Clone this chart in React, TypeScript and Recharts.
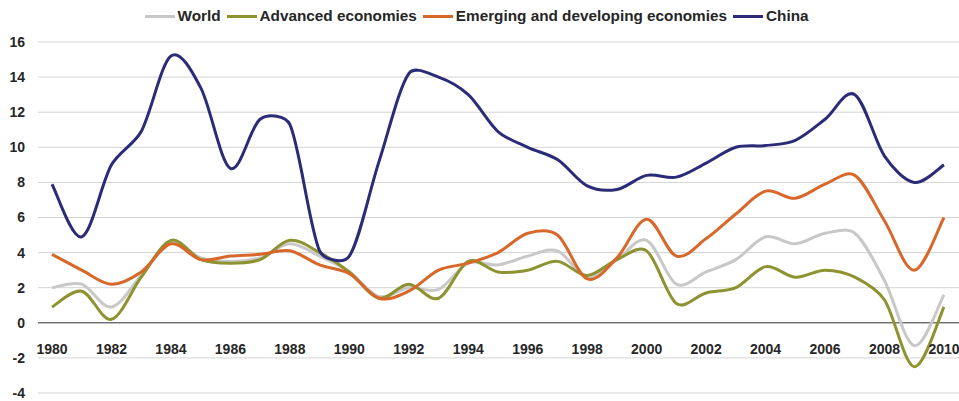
import { LineChart, Line, XAxis, YAxis, CartesianGrid, Legend, ReferenceLine } from 'recharts';

const years = [
  1980, 1981, 1982, 1983, 1984, 1985, 1986, 1987, 1988, 1989, 1990, 1991, 1992, 1993, 1994, 1995,
  1996, 1997, 1998, 1999, 2000, 2001, 2002, 2003, 2004, 2005, 2006, 2007, 2008, 2009, 2010,
];
const world = [
  2.0, 2.2, 0.9, 2.7, 4.6, 3.7, 3.5, 3.7, 4.5, 3.8, 2.9, 1.5, 2.0, 1.9, 3.4, 3.3,
  3.8, 4.1, 2.6, 3.6, 4.7, 2.2, 2.9, 3.6, 4.9, 4.5, 5.1, 5.1, 2.4, -1.3, 1.6,
];
const advanced = [
  0.9, 1.8, 0.2, 2.6, 4.7, 3.6, 3.4, 3.6, 4.7, 4.0, 2.9, 1.4, 2.2, 1.4, 3.5, 2.9,
  3.0, 3.5, 2.7, 3.6, 4.1, 1.1, 1.7, 2.0, 3.2, 2.6, 3.0, 2.6, 1.3, -2.5, 0.9,
];
const emerging = [
  3.9, 3.0, 2.2, 2.9, 4.5, 3.6, 3.8, 3.9, 4.1, 3.3, 2.8, 1.4, 1.8, 3.0, 3.4, 4.0,
  5.1, 5.0, 2.5, 3.7, 5.9, 3.8, 4.8, 6.2, 7.5, 7.1, 7.9, 8.4, 5.8, 3.0, 6.0,
];
const china = [
  7.9, 4.9, 9.0, 10.9, 15.2, 13.4, 8.8, 11.6, 11.3, 4.1, 3.8, 9.2, 14.2, 14.0, 13.0, 10.9,
  10.0, 9.3, 7.8, 7.6, 8.4, 8.3, 9.1, 10.0, 10.1, 10.4, 11.6, 13.0, 9.5, 8.0, 9.0,
];
const xTicks = [1980, 1982, 1984, 1986, 1988, 1990, 1992, 1994, 1996, 1998, 2000, 2002, 2004, 2006, 2008, 2010];
const yTicks = [-4, -2, 0, 2, 4, 6, 8, 10, 12, 14, 16];

const series = [
  { key: 'world', name: 'World', color: '#c8c8c8' },
  { key: 'advanced', name: 'Advanced economies', color: '#8c9330' },
  { key: 'emerging', name: 'Emerging and developing economies', color: '#d8672a' },
  { key: 'china', name: 'China', color: '#2b2b78' },
];

const data = years.map((year, i) => ({
  year,
  world: world[i],
  advanced: advanced[i],
  emerging: emerging[i],
  china: china[i],
}));

const FONT = '"Liberation Sans", Arial, sans-serif';
const TEXT = '#262626';

// spreadsheet-style smoothing: catmull-rom bezier, handles shortened next to short segments
const smooth = (ctx: any) => {
  let pts: number[][] = [];
  const dist = (a: number[], b: number[]) => Math.hypot(b[0] - a[0], b[1] - a[1]) || 1;
  return {
    areaStart() {},
    areaEnd() {},
    lineStart() {
      pts = [];
    },
    point(x: number, y: number) {
      pts.push([+x, +y]);
    },
    lineEnd() {
      if (!pts.length) return;
      ctx.moveTo(pts[0][0], pts[0][1]);
      for (let i = 0; i < pts.length - 1; i++) {
        const p0 = pts[i - 1] || pts[i];
        const p1 = pts[i];
        const p2 = pts[i + 1];
        const p3 = pts[i + 2] || p2;
        const seg = dist(p1, p2);
        const f1 = Math.min(1 / 6, seg / (3 * dist(p0, p2)));
        const f2 = Math.min(1 / 6, seg / (3 * dist(p1, p3)));
        ctx.bezierCurveTo(
          p1[0] + (p2[0] - p0[0]) * f1,
          p1[1] + (p2[1] - p0[1]) * f1,
          p2[0] - (p3[0] - p1[0]) * f2,
          p2[1] - (p3[1] - p1[1]) * f2,
          p2[0],
          p2[1]
        );
      }
    },
  };
};

const XTick = ({ x, y, payload }: any) => (
  <text x={x} y={y - 47} textAnchor="middle" fontSize={14} fontWeight="bold" fill={TEXT} fontFamily={FONT}>
    {payload.value}
  </text>
);

const renderLegend = () => (
  <div
    style={{
      display: 'flex',
      justifyContent: 'center',
      alignItems: 'center',
      height: 20,
      fontFamily: FONT,
      fontSize: 15.3,
      fontWeight: 'bold',
      color: TEXT,
      whiteSpace: 'nowrap',
    }}
  >
    {series.map((s) => (
      <div key={s.key} style={{ display: 'flex', alignItems: 'center', marginRight: 6 }}>
        <span style={{ display: 'inline-block', width: 30, height: 3, background: s.color, marginRight: 3 }} />
        <span>{s.name}</span>
      </div>
    ))}
  </div>
);

export default function App() {
  return (
    <div style={{ position: 'absolute', left: 0, top: 0, width: 959, height: 401, background: '#fff' }}>
      <LineChart width={959} height={401} data={data} margin={{ top: 22, right: 0, bottom: 0, left: 0 }}>
        <CartesianGrid vertical={false} stroke="#d4d4d4" />
        <XAxis
          dataKey="year"
          type="number"
          domain={[1980, 2010]}
          ticks={xTicks}
          padding={{ left: 14, right: 15 }}
          height={8}
          axisLine={false}
          tickLine={false}
          tick={<XTick />}
          interval={0}
        />
        <YAxis
          domain={[-4, 16]}
          ticks={yTicks}
          width={38}
          axisLine={false}
          tickLine={false}
          tickMargin={7}
          interval={0}
          tick={{ fontSize: 14, fontWeight: 'bold', fill: TEXT, fontFamily: FONT }}
        />
        <ReferenceLine y={0} stroke="#404040" strokeWidth={1} />
        <Legend
          verticalAlign="top"
          content={renderLegend}
          wrapperStyle={{ top: 6, left: 0, width: 959, height: 20 }}
        />
        {series.map((s) => (
          <Line
            key={s.key}
            dataKey={s.key}
            name={s.name}
            type={smooth as any}
            stroke={s.color}
            strokeWidth={3}
            dot={false}
            activeDot={false}
            isAnimationActive={false}
          />
        ))}
      </LineChart>
    </div>
  );
}
